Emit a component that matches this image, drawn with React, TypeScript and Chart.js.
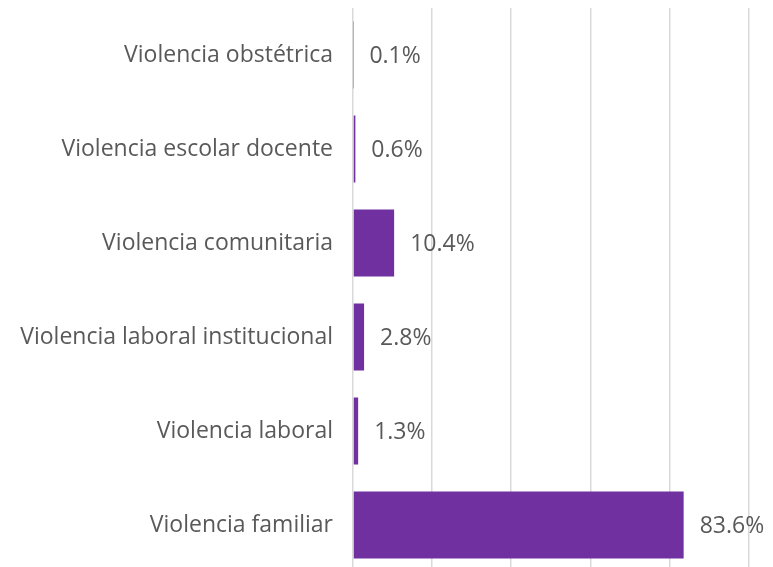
import React, { useEffect, useRef } from "react";
import { Chart, registerables } from "chart.js";

Chart.register(...registerables);

const categories = [
  "Violencia obstétrica",
  "Violencia escolar docente",
  "Violencia comunitaria",
  "Violencia laboral institucional",
  "Violencia laboral",
  "Violencia familiar",
];
const values = [0.1, 0.6, 10.4, 2.8, 1.3, 83.6];
const xTicks = [0, 20, 40, 60, 80, 100];

const FONT = "'Open Sans', sans-serif";
const FONT_SIZE = 23;
const TEXT = "#595959";

const valueLabels = {
  id: "valueLabels",
  afterDatasetsDraw(chart: any) {
    const ctx = chart.ctx;
    const meta = chart.getDatasetMeta(0);
    ctx.save();
    ctx.font = `${FONT_SIZE}px ${FONT}`;
    ctx.fillStyle = TEXT;
    ctx.textAlign = "left";
    ctx.textBaseline = "middle";
    meta.data.forEach((bar: any, i: number) => {
      ctx.fillText(values[i].toFixed(1) + "%", bar.x + 16, bar.y + 1);
    });
    ctx.restore();
  },
};

export default function App() {
  const ref = useRef<HTMLCanvasElement>(null);
  useEffect(() => {
    if (!ref.current) return;
    const chart = new Chart(ref.current, {
      type: "bar",
      data: {
        labels: categories,
        datasets: [
          {
            data: values,
            backgroundColor: "#7030A0",
            categoryPercentage: 1,
            barPercentage: 0.713,
          },
        ],
      },
      options: {
        indexAxis: "y",
        animation: false,
        responsive: false,
        maintainAspectRatio: false,
        layout: { padding: { top: 8, right: 24.5, bottom: 0, left: 0 } },
        plugins: { legend: { display: false }, tooltip: { enabled: false } },
        scales: {
          x: {
            min: 0,
            max: 100,
            afterBuildTicks: (s: any) => {
              s.ticks = xTicks.map((v) => ({ value: v }));
            },
            afterFit: (s: any) => {
              s.height = 0;
              s.paddingLeft = 0;
              s.paddingRight = 0;
            },
            ticks: { display: false },
            grid: { color: "#d9d9d9", lineWidth: 1.5, drawTicks: false },
            border: { display: false },
          },
          y: {
            afterFit: (s: any) => {
              s.width = 353;
              s.paddingTop = 0;
              s.paddingBottom = 0;
            },
            ticks: {
              color: TEXT,
              font: { family: FONT, size: FONT_SIZE },
              padding: 20,
            },
            grid: { display: false, drawTicks: false },
            border: { display: false },
          },
        },
      },
      plugins: [valueLabels],
    });
    return () => chart.destroy();
  }, []);
  return (
    <div
      style={{
        position: "fixed",
        left: 0,
        top: 0,
        width: 773,
        height: 567,
        overflow: "hidden",
        background: "#fff",
      }}
    >
      <canvas ref={ref} width={773} height={572} style={{ display: "block" }} />
    </div>
  );
}
